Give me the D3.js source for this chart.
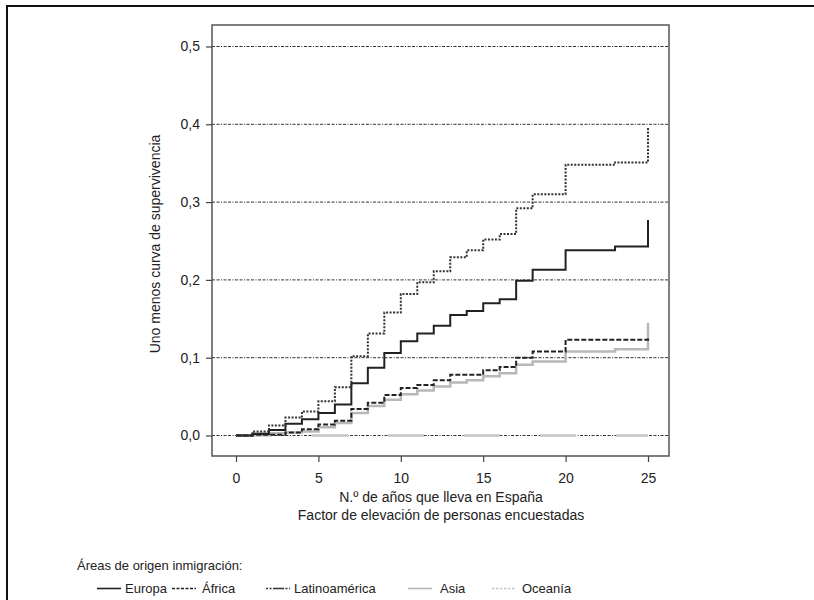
<!DOCTYPE html>
<html>
<head>
<meta charset="utf-8">
<script src="https://cdn.jsdelivr.net/npm/d3@7"></script>
<style>
  html, body { margin: 0; padding: 0; background: #fff; }
  svg { display: block; }
  text { font-family: "Liberation Sans", Arial, Helvetica, sans-serif; fill: #222; }
</style>
</head>
<body>
<svg id="chart" width="814" height="600"></svg>
<script>
// ---- Data ----
const years = [0,1,2,3,4,5,6,7,8,9,10,11,12,13,14,15,16,17,18,19,20,21,22,23,24,25];
const europa = [0,0.002,0.007,0.015,0.021,0.029,0.040,0.067,0.087,0.106,0.121,0.131,0.141,0.155,0.160,0.170,0.175,0.199,0.213,0.213,0.238,0.238,0.238,0.243,0.243,0.277];
const africa = [0,0.001,0.001,0.004,0.008,0.014,0.019,0.034,0.042,0.052,0.061,0.065,0.071,0.078,0.078,0.084,0.088,0.100,0.108,0.108,0.123,0.123,0.123,0.123,0.123,0.127];
const latinoamerica = [0,0.005,0.013,0.023,0.031,0.044,0.062,0.102,0.131,0.158,0.182,0.197,0.211,0.229,0.238,0.252,0.259,0.292,0.310,0.310,0.348,0.348,0.348,0.351,0.351,0.397];
const asia = [0,0.003,0.003,0.004,0.005,0.0105,0.016,0.029,0.038,0.046,0.053,0.058,0.063,0.068,0.071,0.076,0.080,0.091,0.095,0.095,0.108,0.108,0.108,0.111,0.111,0.145];
const oceania = [0,0,0,0,0,0,0,0,0,0,0,0,0,0,0,0,0,0,0,0,0,0,0,0,0,0];

const xTicks = [0,5,10,15,20,25];
const yTicks = [0,0.1,0.2,0.3,0.4,0.5];
const yTitle = "Uno menos curva de supervivencia";
const xTitle1 = "N.º de años que lleva en España";
const xTitle2 = "Factor de elevación de personas encuestadas";
const legendTitle = "Áreas de origen inmigración:";
const seriesNames = ["Europa","África","Latinoamérica","Asia","Oceanía"];
const seriesValues = [europa, africa, latinoamerica, asia, oceania];

// ---- Styles ----
const styles = {
  "Europa":        {stroke:"#222", width:2,   dash:null,     legDash:null},
  "África":        {stroke:"#222", width:2,   dash:"5,2",    legDash:"3,1.5"},
  "Latinoamérica": {stroke:"#333", width:2,   dash:"2,1.5",  legDash:"2,1.5,2,1.5,9,0"},
  "Asia":          {stroke:"#b8b8b8", width:2.5, dash:null,  legDash:null},
  "Oceanía":       {stroke:"#c4c4c4", width:2.5, dash:"36,40", legDash:"2.5,1.5"}
};

const svg = d3.select("#chart");

// outer frame
svg.append("rect").attr("x",7).attr("y",6).attr("width",900).attr("height",700)
  .attr("fill","none").attr("stroke","#111").attr("stroke-width",2);

const frame = {left:212, right:669, top:25, bottom:456};
const x = d3.scaleLinear().domain([0,25]).range([236,648]);
const y = d3.scaleLinear().domain([0,0.5]).range([435.5,46.5]);

// gridlines
svg.append("g").selectAll("line").data(yTicks).join("line")
  .attr("x1",frame.left).attr("x2",frame.right)
  .attr("y1",d=>y(d)).attr("y2",d=>y(d))
  .attr("stroke","#333").attr("stroke-width",1)
  .attr("stroke-dasharray","3,1.5,3,1.5,1,1.5");

// series
const line = d3.line().x(d=>x(d[0])).y(d=>y(d[1])).curve(d3.curveStepAfter);
const drawOrder = ["Oceanía","Asia","África","Europa","Latinoamérica"];
drawOrder.forEach(name=>{
  const vals = seriesValues[seriesNames.indexOf(name)];
  const pts = years.map((t,i)=>[t, vals[i]]);
  const st = styles[name];
  svg.append("path").datum(pts).attr("d",line)
    .attr("fill","none").attr("stroke",st.stroke).attr("stroke-width",st.width)
    .attr("stroke-dasharray",st.dash);
});

// frame
svg.append("rect").attr("x",frame.left).attr("y",frame.top)
  .attr("width",frame.right-frame.left).attr("height",frame.bottom-frame.top)
  .attr("fill","none").attr("stroke","#555").attr("stroke-width",1.5);

// axes
const fmt = d=>d3.format(".1f")(d).replace(".",",");
const yAxis = svg.append("g").attr("transform",`translate(${frame.left},0)`)
  .call(d3.axisLeft(y).tickValues(yTicks).tickFormat(fmt).tickSize(6).tickPadding(6));
const xAxis = svg.append("g").attr("transform",`translate(0,${frame.bottom})`)
  .call(d3.axisBottom(x).tickValues(xTicks).tickSize(6).tickPadding(11));
[yAxis,xAxis].forEach(a=>{
  a.select(".domain").remove();
  a.selectAll(".tick line").attr("stroke","#444").attr("stroke-width",1.2);
  a.selectAll(".tick text").attr("font-size",14).attr("fill","#222")
    .attr("font-family","'Liberation Sans', Arial, sans-serif");
});

// titles
svg.append("text").attr("transform","translate(160,244) rotate(-90)")
  .attr("text-anchor","middle").attr("font-size",14).text(yTitle);
svg.append("text").attr("x",441).attr("y",502).attr("text-anchor","middle")
  .attr("font-size",14).text(xTitle1);
svg.append("text").attr("x",441).attr("y",520).attr("text-anchor","middle")
  .attr("font-size",14).text(xTitle2);

// legend
svg.append("text").attr("x",77).attr("y",570).attr("font-size",13).text(legendTitle);
const legendLineX = [97, 172, 266, 408, 492];
const legendTextX = [125, 202, 294, 440, 522];
const legY = 588.5;
seriesNames.forEach((name,i)=>{
  const st = styles[name];
  svg.append("line").attr("x1",legendLineX[i]).attr("x2",legendLineX[i]+24)
    .attr("y1",legY).attr("y2",legY)
    .attr("stroke",st.stroke).attr("stroke-width",1.6)
    .attr("stroke-dasharray",st.legDash);
  svg.append("text").attr("x",legendTextX[i]).attr("y",593).attr("font-size",13).text(name);
});
</script>
</body>
</html>
